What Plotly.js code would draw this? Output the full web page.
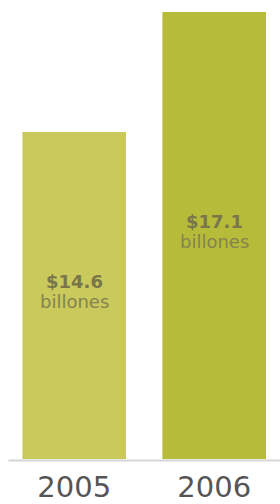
<!DOCTYPE html>
<html>
<head>
<meta charset="utf-8">
<script src="https://cdn.plot.ly/plotly-3.0.1.min.js"></script>
<style>html,body{margin:0;padding:0;background:#fff;}#chart{width:280px;height:504px;}</style>
</head>
<body>
<div id="chart"></div>
<script>
var years = ['2005', '2006'];
var values = [14.6, 17.1];
var unitLabel = 'billones';
var barColors = ['#c9c95c', '#b6bc3a'];
var axisMin = 7.79;
var axisMax = 17.35;

var trace = {
  type: 'bar',
  x: years,
  y: values.map(function (v) { return v - axisMin; }),
  base: axisMin,
  width: 0.74,
  marker: { color: barColors, line: { width: 0 } },
  hoverinfo: 'none'
};

var textFont = 'DejaVu Sans, sans-serif';
var annotations = [];
for (var i = 0; i < years.length; i++) {
  var mid = (axisMin + values[i]) / 2;
  annotations.push({
    x: i, y: mid, xref: 'x', yref: 'y', showarrow: false,
    text: '<b>$' + values[i].toFixed(1) + '</b>',
    yshift: 14,
    font: { family: textFont, size: 18, color: '#78764a' }
  });
  annotations.push({
    x: i, y: mid, xref: 'x', yref: 'y', showarrow: false,
    text: unitLabel,
    yshift: -6,
    font: { family: textFont, size: 18, color: '#85834f' }
  });
}

var layout = {
  width: 280, height: 504,
  margin: { l: 0, r: 0, t: 0, b: 45, pad: 0 },
  paper_bgcolor: '#ffffff', plot_bgcolor: '#ffffff',
  showlegend: false,
  xaxis: {
    type: 'category',
    range: [-0.53, 1.47],
    showline: false,
    showgrid: false, zeroline: false,
    ticks: 'outside', ticklen: 2, tickcolor: 'rgba(0,0,0,0)',
    tickfont: { family: 'DejaVu Sans, sans-serif', size: 29, color: '#555555' }
  },
  yaxis: {
    range: [axisMin, axisMax],
    visible: false, showgrid: false, zeroline: false
  },
  annotations: annotations,
  shapes: [{
    type: 'line', xref: 'paper', yref: 'paper',
    x0: 0.03, x1: 1, y0: -0.003, y1: -0.003,
    line: { color: '#d6d6d6', width: 2 }
  }]
};

Plotly.newPlot('chart', [trace], layout, { displayModeBar: false, staticPlot: true });
</script>
</body>
</html>
